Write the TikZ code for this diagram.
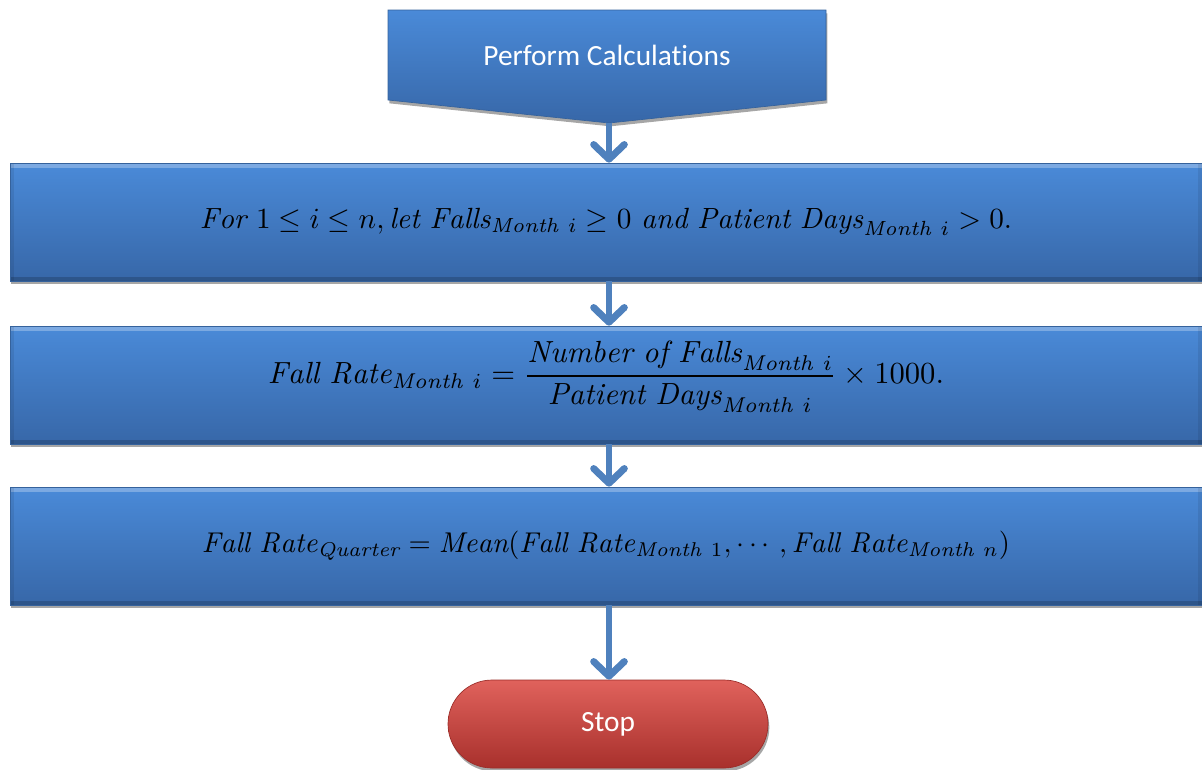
\documentclass[tikz,border=0pt]{standalone}
\usepackage{fontspec}
\setsansfont{Carlito}[Ligatures={NoCommon}]
\usepackage{amsmath}
\usetikzlibrary{arrows.meta,shadows,calc}

\definecolor{boxtop}{HTML}{4A8AD8}
\definecolor{boxmid}{HTML}{3F7DCA}
\definecolor{boxbot}{HTML}{3767A8}
\definecolor{boxedge}{HTML}{35629C}
\definecolor{flow}{HTML}{4F81BD}
\definecolor{stoptop}{HTML}{E0625C}
\definecolor{stopmid}{HTML}{D0443F}
\definecolor{stopbot}{HTML}{A8302C}
\definecolor{stopedge}{HTML}{9A2C28}

\tikzset{
  softshadow/.style={drop shadow={shadow xshift=1pt, shadow yshift=-2.5pt, fill=black, opacity=0.35}},
  bevel/.style={path picture={
      \fill[white, opacity=0.28] (path picture bounding box.north west)
        rectangle ([yshift=-4pt]path picture bounding box.north east);
      \fill[black, opacity=0.18] (path picture bounding box.south west)
        rectangle ([yshift=3pt]path picture bounding box.south east);
      \fill[black, opacity=0.08] (path picture bounding box.south west)
        rectangle ([xshift=3pt]path picture bounding box.north west);
      \fill[black, opacity=0.08] (path picture bounding box.south east)
        rectangle ([xshift=-3pt]path picture bounding box.north east);}},
  bluefill/.style={top color=boxtop, middle color=boxmid, bottom color=boxbot},
  stepbox/.style={rectangle, draw=boxedge, line width=0.5pt, bluefill, softshadow, bevel,
    minimum width=894pt, minimum height=88.5pt, inner sep=0pt},
  terminal/.style={rectangle, rounded corners=33pt, draw=stopedge, line width=0.5pt,
    top color=stoptop, middle color=stopmid, bottom color=stopbot, softshadow,
    minimum width=240pt, minimum height=66pt, inner sep=0pt,
    font=\sffamily\fontsize{22pt}{26pt}\selectfont, text=white},
  flowarrow/.style={draw=flow, line width=5.2pt,
    -{Straight Barb[length=11pt, width=23pt, round]}},
}

\begin{document}
\begin{tikzpicture}[x=0.75pt, y=-0.75pt]
  \useasboundingbox (0,0) rectangle (1202,769);

  % off-page connector at the top
  \path[draw=boxedge, line width=0.5pt, bluefill, softshadow]
    (388,10) -- (826,10) -- (826,100) -- (609,123) -- (388,100) -- cycle;
  \node[font=\sffamily\fontsize{22pt}{26pt}\selectfont, text=white] (pc) at (607,55) {Perform Calculations};
  \coordinate (pctip) at (609,123);

  % process steps
  \node[stepbox] (b1) at (606,222)
    {\resizebox{609pt}{!}{$\mathit{For}\ 1\le i\le n,\mathit{let}\ \mathit{Falls}_{\mathit{Month}\ i}\ge 0\ \mathit{and}\ \mathit{Patient\ Days}_{\mathit{Month}\ i}>0.$}};
  % the formula sits a little above the middle of its box
  \node[stepbox] (b2) at (606,385)
    {\raisebox{0pt}[\height][\dimexpr\depth+12pt\relax]{\resizebox{507pt}{!}{$\displaystyle \mathit{Fall\ Rate}_{\mathit{Month}\ i}=\frac{\mathit{Number\ of\ Falls}_{\mathit{Month}\ i}}{\mathit{Patient\ Days}_{\mathit{Month}\ i}}\times 1000.$}}};
  \node[stepbox] (b3) at (606,546)
    {\resizebox{606pt}{!}{$\mathit{Fall\ Rate}_{\mathit{Quarter}}=\mathit{Mean}(\mathit{Fall\ Rate}_{\mathit{Month}\ 1},\cdots,\mathit{Fall\ Rate}_{\mathit{Month}\ n})$}};

  % terminal
  \node[terminal] (stop) at (608,724) {Stop};

  % connectors
  \draw[flowarrow] (pctip) -- (pctip |- b1.north);
  \draw[flowarrow] (pctip |- b1.south) -- (pctip |- b2.north);
  \draw[flowarrow] (pctip |- b2.south) -- (pctip |- b3.north);
  \draw[flowarrow] (pctip |- b3.south) -- (pctip |- stop.north);
\end{tikzpicture}
\end{document}
